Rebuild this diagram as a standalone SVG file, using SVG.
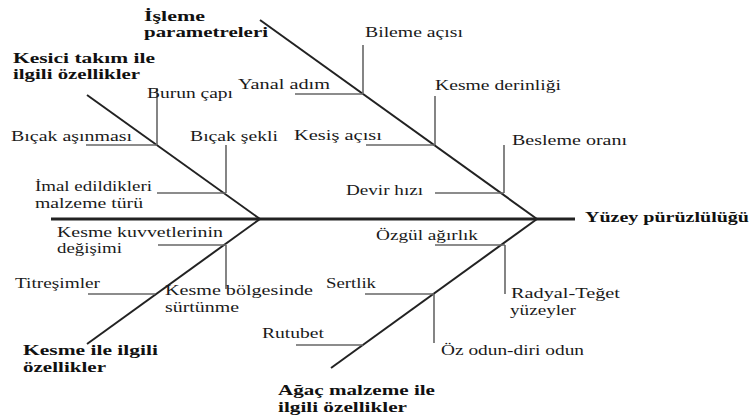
<svg xmlns="http://www.w3.org/2000/svg" width="750" height="416" viewBox="0 0 750 416">
<style>
.t{font-size:15px;fill:#1a1a1a}
.h{font-size:15px;font-weight:bold;fill:#111}
.bone{stroke:#222;stroke-width:2;fill:none}
.spine{stroke:#222;stroke-width:3.2;fill:none}
.sub{stroke:#666;stroke-width:1.6;fill:none}
</style>
<rect width="750" height="416" fill="#fff"/>
<g id="connectors">
<line class="spine" x1="51" y1="219" x2="575" y2="219"/>
<line class="bone" x1="87" y1="95" x2="260" y2="219"/>
<line class="bone" x1="260" y1="20" x2="537" y2="219"/>
<line class="bone" x1="260" y1="219" x2="87" y2="344"/>
<line class="bone" x1="537" y1="219" x2="331" y2="368"/>
<line class="sub" x1="157" y1="88" x2="157" y2="145"/>
<line class="sub" x1="86" y1="145" x2="157" y2="145"/>
<line class="sub" x1="226" y1="145" x2="226" y2="193"/>
<line class="sub" x1="157" y1="193" x2="226" y2="193"/>
<line class="sub" x1="363" y1="45" x2="363" y2="94"/>
<line class="sub" x1="295" y1="94" x2="363" y2="94"/>
<line class="sub" x1="435" y1="96" x2="435" y2="145"/>
<line class="sub" x1="366" y1="145" x2="435" y2="145"/>
<line class="sub" x1="504" y1="145" x2="504" y2="193"/>
<line class="sub" x1="435" y1="193" x2="504" y2="193"/>
<line class="sub" x1="158" y1="245" x2="226" y2="245"/>
<line class="sub" x1="226" y1="245" x2="226" y2="289"/>
<line class="sub" x1="88" y1="294" x2="155" y2="294"/>
<line class="sub" x1="435" y1="245" x2="505" y2="245"/>
<line class="sub" x1="505" y1="245" x2="505" y2="294"/>
<line class="sub" x1="365" y1="294" x2="434" y2="294"/>
<line class="sub" x1="434" y1="294" x2="434" y2="343"/>
<line class="sub" x1="296" y1="345" x2="363" y2="345"/>
</g>
<g font-family="Liberation Serif, DejaVu Serif, serif">
<g id="effect"><text class="h" x="585" y="222" textLength="164" lengthAdjust="spacingAndGlyphs">Yüzey pürüzlülüğü</text></g>
<g id="cat-isleme"><text class="h" x="144" y="21" textLength="61" lengthAdjust="spacingAndGlyphs">İşleme</text><text class="h" x="144" y="37" textLength="124" lengthAdjust="spacingAndGlyphs">parametreleri</text></g>
<g id="cat-kesici"><text class="h" x="13" y="63" textLength="142" lengthAdjust="spacingAndGlyphs">Kesici takım ile</text><text class="h" x="13" y="79" textLength="127" lengthAdjust="spacingAndGlyphs">ilgili özellikler</text></g>
<g id="cat-kesme"><text class="h" x="23" y="355" textLength="135" lengthAdjust="spacingAndGlyphs">Kesme ile ilgili</text><text class="h" x="23" y="372" textLength="83" lengthAdjust="spacingAndGlyphs">özellikler</text></g>
<g id="cat-agac"><text class="h" x="278" y="395" textLength="157" lengthAdjust="spacingAndGlyphs">Ağaç malzeme ile</text><text class="h" x="278" y="412" textLength="129" lengthAdjust="spacingAndGlyphs">ilgili özellikler</text></g>
<g id="burun-capi"><text class="t" x="147" y="98" textLength="86" lengthAdjust="spacingAndGlyphs">Burun çapı</text></g>
<g id="bicak-asinmasi"><text class="t" x="11" y="141" textLength="121" lengthAdjust="spacingAndGlyphs">Bıçak aşınması</text></g>
<g id="bicak-sekli"><text class="t" x="190" y="141" textLength="88" lengthAdjust="spacingAndGlyphs">Bıçak şekli</text></g>
<g id="imal"><text class="t" x="35" y="191" textLength="117" lengthAdjust="spacingAndGlyphs">İmal edildikleri</text><text class="t" x="35" y="208" textLength="108" lengthAdjust="spacingAndGlyphs">malzeme türü</text></g>
<g id="bileme-acisi"><text class="t" x="365" y="37" textLength="98" lengthAdjust="spacingAndGlyphs">Bileme açısı</text></g>
<g id="yanal-adim"><text class="t" x="238" y="89" textLength="92" lengthAdjust="spacingAndGlyphs">Yanal adım</text></g>
<g id="kesme-derinligi"><text class="t" x="435" y="90" textLength="126" lengthAdjust="spacingAndGlyphs">Kesme derinliği</text></g>
<g id="kesis-acisi"><text class="t" x="294" y="140" textLength="88" lengthAdjust="spacingAndGlyphs">Kesiş açısı</text></g>
<g id="besleme-orani"><text class="t" x="512" y="145" textLength="115" lengthAdjust="spacingAndGlyphs">Besleme oranı</text></g>
<g id="devir-hizi"><text class="t" x="346" y="195" textLength="77" lengthAdjust="spacingAndGlyphs">Devir hızı</text></g>
<g id="kesme-kuvvetleri"><text class="t" x="57" y="237" textLength="166" lengthAdjust="spacingAndGlyphs">Kesme kuvvetlerinin</text><text class="t" x="57" y="253" textLength="65" lengthAdjust="spacingAndGlyphs">değişimi</text></g>
<g id="titresimler"><text class="t" x="15" y="288" textLength="85" lengthAdjust="spacingAndGlyphs">Titreşimler</text></g>
<g id="kesme-bolgesi"><text class="t" x="165" y="295" textLength="148" lengthAdjust="spacingAndGlyphs">Kesme bölgesinde</text><text class="t" x="165" y="312" textLength="74" lengthAdjust="spacingAndGlyphs">sürtünme</text></g>
<g id="ozgul-agirlik"><text class="t" x="376" y="240" textLength="102" lengthAdjust="spacingAndGlyphs">Özgül ağırlık</text></g>
<g id="sertlik"><text class="t" x="326" y="288" textLength="50" lengthAdjust="spacingAndGlyphs">Sertlik</text></g>
<g id="radyal-teget"><text class="t" x="511" y="298" textLength="109" lengthAdjust="spacingAndGlyphs">Radyal-Teğet</text><text class="t" x="510" y="315" textLength="66" lengthAdjust="spacingAndGlyphs">yüzeyler</text></g>
<g id="rutubet"><text class="t" x="262" y="338" textLength="62" lengthAdjust="spacingAndGlyphs">Rutubet</text></g>
<g id="oz-odun"><text class="t" x="441" y="355" textLength="143" lengthAdjust="spacingAndGlyphs">Öz odun-diri odun</text></g>
</g>
</svg>
